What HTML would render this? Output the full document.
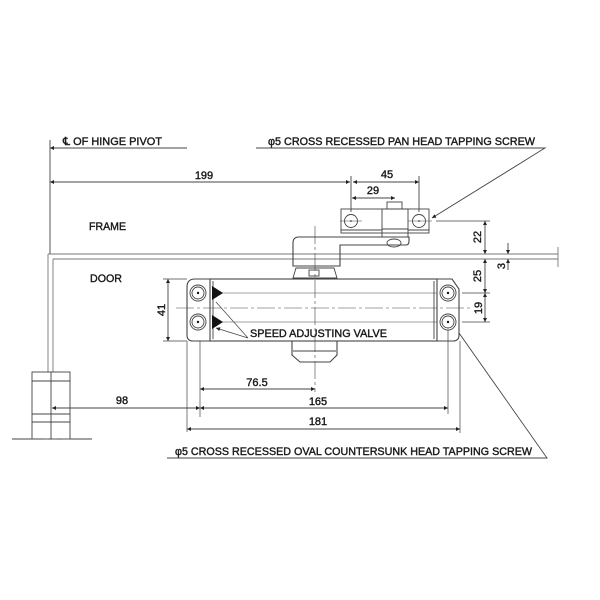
<!DOCTYPE html>
<html><head><meta charset="utf-8"><style>
html,body{margin:0;padding:0;background:#fff;}
svg{display:block;}
text{font-family:"Liberation Sans",Arial,sans-serif;fill:#1a1a1a;stroke:#1a1a1a;stroke-width:0.4;}
</style></head><body>
<svg width="600" height="600" viewBox="0 0 600 600" xmlns="http://www.w3.org/2000/svg">
<defs>
<marker id="a" viewBox="0 0 10 10" refX="10" refY="5" markerWidth="5" markerHeight="4" orient="auto-start-reverse" markerUnits="userSpaceOnUse"><path d="M0,0 L10,5 L0,10 Z" fill="#222"/></marker>
</defs>
<rect width="600" height="600" fill="#fff"/>
<g fill="none" stroke="#444" stroke-width="0.9">
<path d="M50,140 V254"/>
<path d="M48,254 V372 M53,259 V372 M48,254 H558 M53,259 H558 M558,247 V267" stroke="#777"/>
<rect x="32" y="372" width="38" height="67"/>
<path d="M32,381 H70 M32,414 H70 M32,422 H70 M51,372 V439"/>
<path d="M12,439 H44 M48,439 H52 M57,439 H62 M70,439 H92"/>
<path d="M50,148 H187" marker-start="url(#a)"/>
<path d="M256,148 H545 L432,218" marker-end="url(#a)"/>
<path d="M50,182 H350" marker-start="url(#a)" marker-end="url(#a)"/>
<path d="M353,182 H419" marker-start="url(#a)" marker-end="url(#a)"/>
<path d="M352,198 H395" marker-start="url(#a)" marker-end="url(#a)"/>
<path d="M351,176 V212 M419,176 V212"/>
<rect x="341" y="209" width="88" height="24"/>
<path d="M341,230 H382 M408,230 H429"/>
<circle cx="351" cy="221" r="6.5"/>
<circle cx="419" cy="221" r="6.5"/>
<path d="M340,221 H362 M408,221 H432" stroke-width="0.6"/>
<rect x="382" y="209" width="26" height="28"/>
<path d="M382,229 H408"/>
<rect x="387" y="202" width="15" height="7"/>
<ellipse cx="394" cy="243" rx="7" ry="4"/>
<path d="M409,237 H299 Q293,237 293,243 V266 H340 V245 H406 Q409,245 409,241 Z" stroke-width="1.1"/>
<path d="M293,278 L296,268 H334 L337,278 Z"/>
<rect x="309" y="270" width="10" height="6"/>
<rect x="210" y="279" width="227" height="62" stroke-width="1.1"/>
<path d="M210,279 H195 Q187,279 187,287 V335 Q187,341 193,341 H210" stroke-width="1.1"/>
<path d="M437,279 H452 L459,289 V335 Q459,341 453,341 H437" stroke-width="1.1"/>
<path d="M213,281 V339 M434,281 V339"/>
<circle cx="198" cy="293" r="8"/><circle cx="198" cy="293" r="6"/>
<circle cx="198" cy="322" r="8"/><circle cx="198" cy="322" r="6"/>
<circle cx="448" cy="293" r="8"/><circle cx="448" cy="293" r="6"/>
<circle cx="448" cy="322" r="8"/><circle cx="448" cy="322" r="6"/>
<path d="M222,293 H437 M222,322 H437" stroke-width="0.6"/>
<path d="M462,293 H490 M462,322 H490 M436,221 H490" stroke-width="0.7"/>
<path d="M176,308 H472" stroke-width="0.6" stroke-dasharray="18,3,3,3"/>
<path d="M315,226 V392" stroke-width="0.6" stroke-dasharray="18,3,3,3"/>
<path d="M292,341 V355 L300,362 H330 L337,355 V341" stroke-width="1.1"/>
<path d="M293,351 H336"/>
<path d="M168,279 V341" marker-start="url(#a)" marker-end="url(#a)"/>
<path d="M163,279 H187 M163,341 H187" stroke-width="0.7"/>
<path d="M485,221 V254" marker-start="url(#a)" marker-end="url(#a)"/>
<path d="M485,259 V293" marker-start="url(#a)" marker-end="url(#a)"/>
<path d="M485,293 V322" marker-start="url(#a)" marker-end="url(#a)"/>
<path d="M508,243 V254" marker-end="url(#a)"/>
<path d="M508,270 V259" marker-end="url(#a)"/>
<path d="M187,341 V432 M200,341 V417 M448,330 V414 M460,341 V433" stroke-width="0.7"/>
<path d="M52,408 H200" marker-start="url(#a)" marker-end="url(#a)"/>
<path d="M200,389 H315" marker-start="url(#a)" marker-end="url(#a)"/>
<path d="M200,408 H448" marker-start="url(#a)" marker-end="url(#a)"/>
<path d="M187,429 H460" marker-start="url(#a)" marker-end="url(#a)"/>
<path d="M167,458 H547 L459,333" />
<path d="M248,338 L216,302 M248,338 L216,328" stroke-width="0.7" marker-end="url(#a)"/>
</g>
<g fill="#111">
<circle cx="198" cy="293" r="1.2"/><circle cx="198" cy="322" r="1.2"/>
<circle cx="448" cy="293" r="1.2"/><circle cx="448" cy="322" r="1.2"/>
<circle cx="351" cy="221" r="0.8"/><circle cx="419" cy="221" r="0.8"/>
<path d="M212,286 L223,293 L212,300 Z"/>
<path d="M212,315 L223,322 L212,329 Z"/>
</g>
<g font-size="11">
<text x="63" y="145" textLength="99" lengthAdjust="spacingAndGlyphs">℄ OF HINGE PIVOT</text>
<text x="268" y="145" textLength="267" lengthAdjust="spacingAndGlyphs">φ5 CROSS RECESSED PAN HEAD TAPPING SCREW</text>
<text x="175" y="455" textLength="357" lengthAdjust="spacingAndGlyphs">φ5 CROSS RECESSED OVAL COUNTERSUNK HEAD TAPPING SCREW</text>
<text x="89" y="230" textLength="37" lengthAdjust="spacingAndGlyphs">FRAME</text>
<text x="90" y="282" textLength="32" lengthAdjust="spacingAndGlyphs">DOOR</text>
<text x="250" y="337" textLength="137" lengthAdjust="spacingAndGlyphs">SPEED ADJUSTING VALVE</text>
<text x="204" y="179" text-anchor="middle">199</text>
<text x="387" y="178" text-anchor="middle">45</text>
<text x="373" y="194" text-anchor="middle">29</text>
<text x="122" y="404" text-anchor="middle">98</text>
<text x="257" y="386" text-anchor="middle">76.5</text>
<text x="318" y="405" text-anchor="middle">165</text>
<text x="318" y="425" text-anchor="middle">181</text>
<text transform="translate(165,310) rotate(-90)" text-anchor="middle">41</text>
<text transform="translate(481,237) rotate(-90)" text-anchor="middle">22</text>
<text transform="translate(481,276) rotate(-90)" text-anchor="middle">25</text>
<text transform="translate(482,308) rotate(-90)" text-anchor="middle">19</text>
<text transform="translate(505,266) rotate(-90)" text-anchor="middle">3</text>
</g>
</svg>
</body></html>
